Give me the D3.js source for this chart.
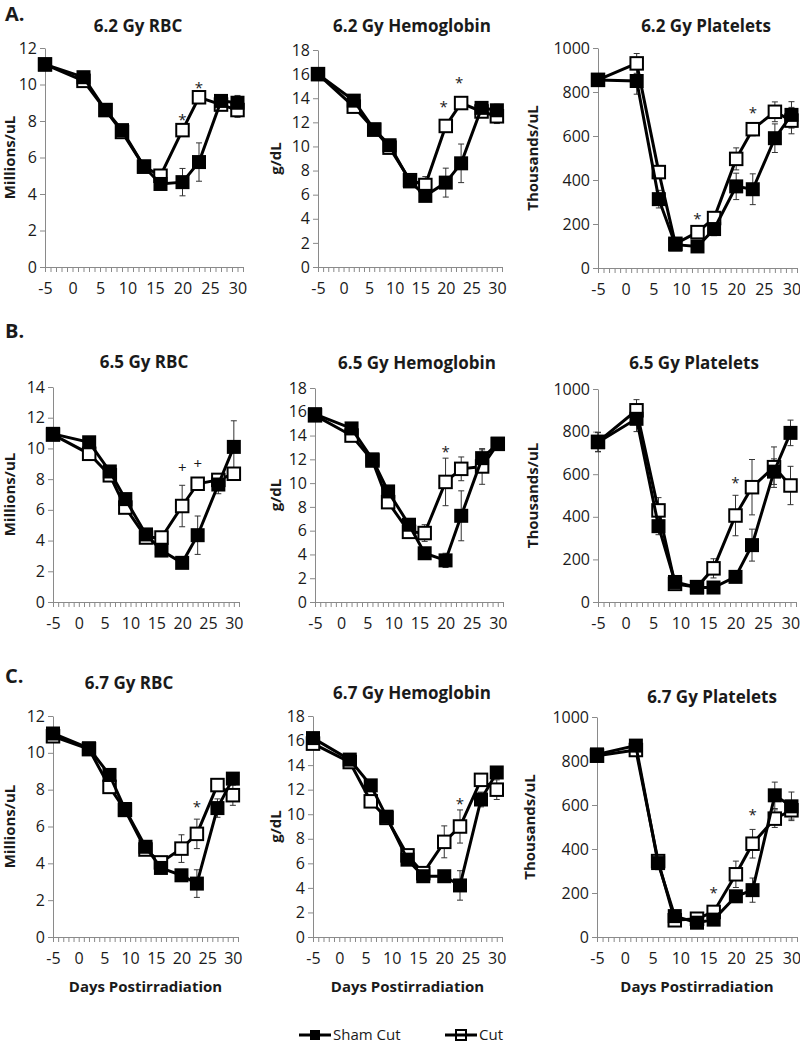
<!DOCTYPE html>
<html><head><meta charset="utf-8">
<script src="https://cdn.jsdelivr.net/npm/d3@7"></script>
<style>
body{margin:0;background:#fff}
svg{display:block}
text{font-family:'Open Sans',sans-serif;fill:#1a1a1a}
</style>
</head><body>
<svg id="chart" width="800" height="1045"></svg>
<script>
// ---------- DATA ----------
const days = [-5, 2, 6, 9, 13, 16, 20, 23, 27, 30];
const xTickLabels = [-5, 0, 5, 10, 15, 20, 25, 30];
const rbcTicks12 = [0, 2, 4, 6, 8, 10, 12];
const rbcTicks14 = [0, 2, 4, 6, 8, 10, 12, 14];
const hgbTicks = [0, 2, 4, 6, 8, 10, 12, 14, 16, 18];
const pltTicks = [0, 200, 400, 600, 800, 1000];
const seriesNames = ["Sham Cut", "Cut"];

// 6.2 Gy
const rbc62Sham = [11.1, 10.4, 8.6, 7.5, 5.5, 4.55, 4.65, 5.75, 9.1, 9.0];
const rbc62ShamErr = [0.15, 0.2, 0.2, 0.2, 0.2, 0.2, 0.75, 1.05, 0.3, 0.4];
const rbc62Cut = [11.1, 10.2, 8.6, 7.4, 5.5, 5.0, 7.5, 9.3, 8.9, 8.6];
const rbc62CutErr = [0.15, 0.2, 0.2, 0.2, 0.2, 0.2, 0.3, 0.3, 0.3, 0.4];
const rbc62Marks = [[20, 8.2, "*"], [23, 10.0, "*"]];

const hgb62Sham = [16.0, 13.8, 11.4, 10.1, 7.1, 5.9, 7.0, 8.6, 13.2, 13.0];
const hgb62ShamErr = [0.2, 0.3, 0.3, 0.3, 0.3, 0.4, 1.2, 1.6, 0.4, 0.5];
const hgb62Cut = [16.0, 13.3, 11.4, 9.9, 7.2, 6.8, 11.7, 13.6, 12.9, 12.5];
const hgb62CutErr = [0.2, 0.3, 0.3, 0.3, 0.3, 0.7, 0.4, 0.4, 0.4, 0.6];
const hgb62Marks = [[19.6, 13.5, "*"], [22.6, 15.5, "*"]];

const plt62Sham = [855, 850, 313, 106, 98, 177, 371, 358, 590, 696];
const plt62ShamErr = [20, 60, 40, 15, 15, 30, 60, 70, 65, 60];
const plt62Cut = [855, 930, 436, 110, 163, 227, 496, 631, 710, 670];
const plt62CutErr = [20, 45, 30, 15, 20, 25, 50, 30, 45, 60];
const plt62Marks = [[13, 235, "*"], [23, 720, "*"]];

// 6.5 Gy
const rbc65Sham = [10.95, 10.4, 8.5, 6.7, 4.4, 3.35, 2.55, 4.35, 7.65, 10.1];
const rbc65ShamErr = [0.2, 0.2, 0.3, 0.3, 0.3, 0.3, 0.3, 1.25, 0.6, 1.7];
const rbc65Cut = [10.9, 9.65, 8.25, 6.15, 4.2, 4.2, 6.25, 7.7, 7.95, 8.35];
const rbc65CutErr = [0.2, 0.3, 0.3, 0.3, 0.3, 0.3, 1.35, 0.3, 0.3, 0.4];
const rbc65Marks = [[20, 8.7, "+"], [23, 9.0, "+"]];

const hgb65Sham = [15.8, 14.6, 12.0, 9.3, 6.5, 4.1, 3.5, 7.25, 12.1, 13.3];
const hgb65ShamErr = [0.2, 0.3, 0.3, 0.4, 0.4, 0.4, 0.6, 2.1, 0.7, 0.3];
const hgb65Cut = [15.7, 14.0, 11.9, 8.4, 5.9, 5.8, 10.1, 11.2, 11.4, 13.3];
const hgb65CutErr = [0.2, 0.3, 0.3, 0.4, 0.4, 0.7, 2.0, 1.0, 1.5, 0.3];
const hgb65Marks = [[20, 12.9, "*"]];

const plt65Sham = [750, 860, 356, 94, 68, 68, 118, 267, 612, 794];
const plt65ShamErr = [45, 60, 40, 15, 10, 15, 25, 75, 60, 60];
const plt65Cut = [752, 900, 430, 85, 70, 158, 406, 539, 633, 547];
const plt65CutErr = [45, 50, 60, 15, 10, 45, 95, 130, 95, 90];
const plt65Marks = [[20, 575, "*"]];

// 6.7 Gy
const rbc67Sham = [11.05, 10.25, 8.8, 6.95, 4.9, 3.75, 3.35, 2.9, 7.0, 8.6];
const rbc67ShamErr = [0.15, 0.2, 0.3, 0.2, 0.3, 0.3, 0.3, 0.75, 0.5, 0.3];
const rbc67Cut = [10.9, 10.2, 8.15, 6.9, 4.75, 4.05, 4.8, 5.6, 8.25, 7.7];
const rbc67CutErr = [0.15, 0.2, 0.3, 0.2, 0.3, 0.3, 0.75, 0.8, 0.3, 0.55];
const rbc67Marks = [[23, 7.2, "*"]];

const hgb67Sham = [16.2, 14.45, 12.35, 9.8, 6.3, 4.95, 4.95, 4.2, 11.2, 13.4];
const hgb67ShamErr = [0.2, 0.3, 0.3, 0.3, 0.4, 0.4, 0.4, 1.2, 0.6, 0.4];
const hgb67Cut = [15.75, 14.25, 11.05, 9.7, 6.65, 5.2, 7.75, 9.0, 12.8, 12.0];
const hgb67CutErr = [0.2, 0.3, 0.4, 0.3, 0.4, 0.4, 1.3, 1.35, 0.4, 0.8];
const hgb67Marks = [[23, 11.1, "*"]];

const plt67Sham = [830, 870, 336, 95, 65, 79, 185, 213, 644, 594];
const plt67ShamErr = [15, 20, 30, 15, 10, 15, 25, 55, 60, 65];
const plt67Cut = [824, 850, 345, 76, 83, 114, 285, 424, 538, 576];
const plt67CutErr = [15, 20, 30, 15, 10, 20, 60, 65, 40, 40];
const plt67Marks = [[16, 212, "*"], [23, 568, "*"]];

// ---------- LAYOUT ----------
const panels = [
  {title:"6.2 Gy RBC", yLabel:"Millions/uL", sham:rbc62Sham, shamErr:rbc62ShamErr, cut:rbc62Cut, cutErr:rbc62CutErr, marks:rbc62Marks, ticks:rbcTicks12,
   box:[45,243,48,267], tPos:[138,32], yl:15},
  {title:"6.2 Gy Hemoglobin", yLabel:"g/dL", sham:hgb62Sham, shamErr:hgb62ShamErr, cut:hgb62Cut, cutErr:hgb62CutErr, marks:hgb62Marks, ticks:hgbTicks,
   box:[318,502,50,267], tPos:[412,32], yl:281},
  {title:"6.2 Gy Platelets", yLabel:"Thousands/uL", sham:plt62Sham, shamErr:plt62ShamErr, cut:plt62Cut, cutErr:plt62CutErr, marks:plt62Marks, ticks:pltTicks,
   box:[598,797,48,268], tPos:[706,32], yl:538},
  {title:"6.5 Gy RBC", yLabel:"Millions/uL", sham:rbc65Sham, shamErr:rbc65ShamErr, cut:rbc65Cut, cutErr:rbc65CutErr, marks:rbc65Marks, ticks:rbcTicks14,
   box:[53,239,387,602], tPos:[144,368], yl:15},
  {title:"6.5 Gy Hemoglobin", yLabel:"g/dL", sham:hgb65Sham, shamErr:hgb65ShamErr, cut:hgb65Cut, cutErr:hgb65CutErr, marks:hgb65Marks, ticks:hgbTicks,
   box:[315,503,388,602], tPos:[417,369], yl:281},
  {title:"6.5 Gy Platelets", yLabel:"Thousands/uL", sham:plt65Sham, shamErr:plt65ShamErr, cut:plt65Cut, cutErr:plt65CutErr, marks:plt65Marks, ticks:pltTicks,
   box:[598,796,389,602], tPos:[694,369], yl:538},
  {title:"6.7 Gy RBC", yLabel:"Millions/uL", sham:rbc67Sham, shamErr:rbc67ShamErr, cut:rbc67Cut, cutErr:rbc67CutErr, marks:rbc67Marks, ticks:rbcTicks12,
   box:[53,238,716,937], tPos:[129,689], yl:15, xl:true},
  {title:"6.7 Gy Hemoglobin", yLabel:"g/dL", sham:hgb67Sham, shamErr:hgb67ShamErr, cut:hgb67Cut, cutErr:hgb67CutErr, marks:hgb67Marks, ticks:hgbTicks,
   box:[313,502,716,937], tPos:[412,699], yl:281, xl:true},
  {title:"6.7 Gy Platelets", yLabel:"Thousands/uL", sham:plt67Sham, shamErr:plt67ShamErr, cut:plt67Cut, cutErr:plt67CutErr, marks:plt67Marks, ticks:pltTicks,
   box:[597,797,717,937], tPos:[712,703], yl:535, xl:true}
];

const svg = d3.select("#chart");
const AX = "#8a8a8a";
const SQ = 14, SQO = 12.5;

// panel letters
[["A.",5,21],["B.",5,338],["C.",5,683]].forEach(([t,x,y])=>{
  svg.append("text").attr("x",x).attr("y",y).attr("font-size",20).attr("font-weight","bold").text(t);
});

panels.forEach(p=>{
  const [x0,x1,yTop,yBot] = p.box;
  const yMax = p.ticks[p.ticks.length-1];
  const x = d3.scaleLinear().domain([-5,31]).range([x0,x1]);
  const y = d3.scaleLinear().domain([0,yMax]).range([yBot,yTop]);
  const g = svg.append("g");

  g.append("text").attr("x",p.tPos[0]).attr("y",p.tPos[1]).attr("text-anchor","middle")
    .attr("font-size",17).attr("font-weight","bold").text(p.title);

  g.append("text").attr("transform",`translate(${p.yl},${(yTop+yBot)/2}) rotate(-90)`)
    .attr("text-anchor","middle").attr("font-size",15).attr("font-weight","bold").text(p.yLabel);

  const ya = g.append("g").attr("transform",`translate(${x0},0)`)
    .call(d3.axisLeft(y).tickValues(p.ticks).tickSize(5).tickSizeOuter(0).tickPadding(3).tickFormat(d=>String(d)));
  const xa = g.append("g").attr("transform",`translate(0,${yBot})`)
    .call(d3.axisBottom(x).tickValues(d3.range(-5,32)).tickSize(5).tickSizeOuter(0).tickPadding(11)
      .tickFormat(d=> xTickLabels.includes(d) ? String(d) : ""));
  [ya,xa].forEach(a=>{
    a.select(".domain").attr("stroke",AX);
    a.selectAll(".tick line").attr("stroke",AX);
    a.selectAll(".tick text").attr("font-size",16).attr("fill","#1a1a1a").attr("font-family","'Open Sans',sans-serif");
  });

  if (p.xl) {
    g.append("text").attr("x",(x0+x1)/2).attr("y",yBot+55).attr("text-anchor","middle")
      .attr("font-size",15).attr("font-weight","bold").text("Days Postirradiation");
  }

  const line = d3.line().x((d,i)=>x(days[i])).y(d=>y(d));

  const drawErr = (vals, errs) => {
    const eg = g.append("g").attr("stroke","#333").attr("stroke-width",1);
    vals.forEach((v,i)=>{
      const cx = x(days[i]), lo = y(v-errs[i]), hi = y(v+errs[i]);
      eg.append("line").attr("x1",cx).attr("x2",cx).attr("y1",lo).attr("y2",hi);
      eg.append("line").attr("x1",cx-3).attr("x2",cx+3).attr("y1",lo).attr("y2",lo);
      eg.append("line").attr("x1",cx-3).attr("x2",cx+3).attr("y1",hi).attr("y2",hi);
    });
  };
  drawErr(p.cut, p.cutErr);
  drawErr(p.sham, p.shamErr);

  g.append("path").datum(p.cut).attr("d",line).attr("fill","none").attr("stroke","#000").attr("stroke-width",3);
  g.append("g").selectAll("rect").data(p.cut).join("rect")
    .attr("x",(d,i)=>x(days[i])-SQO/2).attr("y",d=>y(d)-SQO/2).attr("width",SQO).attr("height",SQO)
    .attr("fill","#fff").attr("stroke","#000").attr("stroke-width",2);
  g.append("path").datum(p.sham).attr("d",line).attr("fill","none").attr("stroke","#000").attr("stroke-width",3);
  g.append("g").selectAll("rect").data(p.sham).join("rect")
    .attr("x",(d,i)=>x(days[i])-SQ/2).attr("y",d=>y(d)-SQ/2).attr("width",SQ).attr("height",SQ)
    .attr("fill","#000");

  p.marks.forEach(([d,v,s])=>{
    g.append("text").attr("x",x(d)).attr("y",y(v)+(s==="*"?8:5)).attr("text-anchor","middle")
      .attr("font-size",15).text(s);
  });
});

// legend
const lg = svg.append("g");
lg.append("line").attr("x1",299).attr("x2",331).attr("y1",1035).attr("y2",1035).attr("stroke","#000").attr("stroke-width",3);
lg.append("rect").attr("x",310).attr("y",1030).attr("width",10).attr("height",10).attr("fill","#000");
lg.append("text").attr("x",333).attr("y",1040).attr("font-size",15).text(seriesNames[0]);
lg.append("rect").attr("x",456).attr("y",1030).attr("width",10).attr("height",10).attr("fill","#fff").attr("stroke","#000").attr("stroke-width",2);
lg.append("line").attr("x1",445).attr("x2",477).attr("y1",1035).attr("y2",1035).attr("stroke","#000").attr("stroke-width",3);
lg.append("text").attr("x",479).attr("y",1040).attr("font-size",15).text(seriesNames[1]);
</script>
</body></html>
